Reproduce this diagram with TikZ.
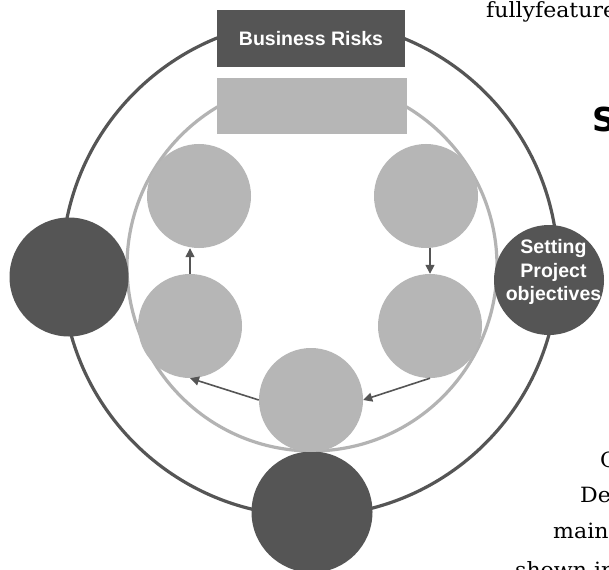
\documentclass[tikz,border=0pt]{standalone}
\usepackage{fontspec}
\setmainfont{DejaVu Serif}
\newfontfamily\pagefont{DejaVu Serif}[FakeStretch=1.05]
\newfontfamily\sansbf{Liberation Sans}
\newfontfamily\heavysans{DejaVu Sans}
\usetikzlibrary{arrows.meta}
\definecolor{darkg}{HTML}{555555}
\definecolor{lightg}{HTML}{B6B6B6}
\definecolor{ringg}{HTML}{B3B3B3}
\begin{document}
\begin{tikzpicture}[x=1pt,y=-1pt,
  outerring/.style={draw=darkg,line width=3.2pt},
  innerring/.style={draw=ringg,line width=3.2pt},
  darkball/.style={circle,fill=darkg,inner sep=0pt,minimum size=#1},
  lightball/.style={circle,fill=lightg,inner sep=0pt,minimum size=104pt},
  darkbox/.style={rectangle,fill=darkg,inner sep=0pt},
  lightbox/.style={rectangle,fill=lightg,inner sep=0pt},
  boxtext/.style={text=white,font=\sansbf\bfseries\fontsize{19.5}{23.5}\selectfont,align=center},
  flow/.style={draw=darkg,line width=1.6pt,-{Triangle[length=9pt,width=9pt]}},
  pagetext/.style={inner sep=0pt,font=\pagefont\fontsize{21}{25}\selectfont}
]
\useasboundingbox (0,0) rectangle (609,569);
\clip (0,0) rectangle (609,569);
\fill[white] (0,0) rectangle (609,569);

% rings
\draw[outerring] (310,268) circle[radius=248pt];
\draw[innerring] (312,266) circle[radius=185pt];

% boxes
\node[darkbox,minimum width=188pt,minimum height=57pt,boxtext] (risks) at (311,38.5) {Business Risks};
\node[lightbox,minimum width=190pt,minimum height=56pt] (band) at (312,106) {};

% dark circles on the outer ring
\node[darkball=119pt] (left) at (69,277) {};
\node[darkball=110pt,label={[boxtext,xshift=4.5pt,yshift=8pt]center:Setting\\Project\\objectives}] (obj) at (549,280) {};
\node[darkball=121pt] (bottom) at (312,512) {};

% light circles inside
\node[lightball] (tl) at (199,196) {};
\node[lightball] (tr) at (426,196) {};
\node[lightball] (ml) at (190,326) {};
\node[lightball] (mr) at (430,326) {};
\node[lightball] (bc) at (311,400) {};

% cycle arrows
\draw[flow] (mr.north |- tr.south) -- (mr.north);
\draw[flow] (mr.south) -- (bc.east);
\draw[flow] (bc.west) -- (ml.south);
\draw[flow] (ml.north) -- (ml.north |- tl.south);

% surrounding page text (cropped)
\node[pagetext,anchor=base west] (t1) at (486,18) {fullyfeatured};
\node[inner sep=0pt,anchor=base west,font=\heavysans\bfseries\fontsize{33}{36}\selectfont] (t2) at (592,132) {S};
\node[pagetext,anchor=base west] (t3) at (600,467) {C};
\node[pagetext,anchor=base west] (t4) at (580,502) {De};
\node[pagetext,anchor=base west] (t5) at (553,538) {maint};
\node[pagetext,anchor=base west] (t6) at (515,577) {shown in};
\end{tikzpicture}
\end{document}
